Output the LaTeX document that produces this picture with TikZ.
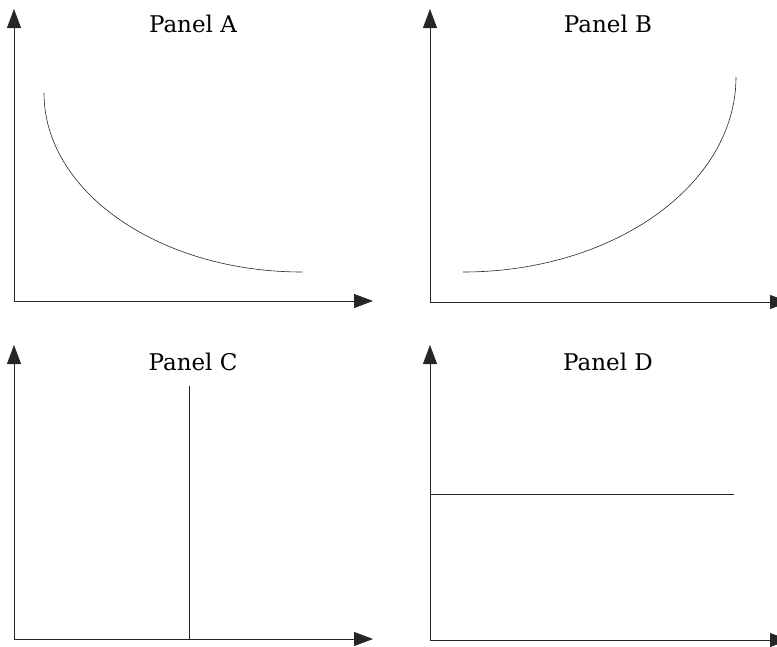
\documentclass[tikz,border=0pt]{standalone}
\usepackage{fontspec}
\setmainfont{DejaVu Serif}
\usepackage{tikz}
\usetikzlibrary{arrows.meta}

\begin{document}
\begin{tikzpicture}[x=1pt,y=-1pt,>={Triangle[length=19pt,width=14pt]}]
		
		\useasboundingbox (0,0) rectangle (777,646);
		\tikzset{axis/.style={->,line width=0.8pt,black!85},
			curve/.style={line width=0.6pt,black!85},
			title/.style={font=\fontsize{23}{28}\selectfont}}
		
		% Origins and axis ends
		\coordinate (oA) at (14,301);   \coordinate (xA) at (373,301);  \coordinate (yA) at (14,9);
		\coordinate (oB) at (430,302);  \coordinate (xB) at (789,302);  \coordinate (yB) at (430,9);
		\coordinate (oC) at (14,639);   \coordinate (xC) at (373,639);  \coordinate (yC) at (14,345);
		\coordinate (oD) at (430,640);  \coordinate (xD) at (789,640);  \coordinate (yD) at (430,345);
		
		% Axes
		\draw[axis] (oA) -- (xA);  \draw[axis] (oA) -- (yA);
		\draw[axis] (oB) -- (xB);  \draw[axis] (oB) -- (yB);
		\draw[axis] (oC) -- (xC);  \draw[axis] (oC) -- (yC);
		\draw[axis] (oD) -- (xD);  \draw[axis] (oD) -- (yD);
		
		% Titles
		\node[title] (tA) at (193,24) {Panel A};
		\node[title] (tB) at (608,24) {Panel B};
		\node[title] (tC) at (193,362) {Panel C};
		\node[title] (tD) at (608,362) {Panel D};
		
		% Panel A: falling curve
		\coordinate (a1) at (44,93);
		\draw[curve] (a1) arc[start angle=180,end angle=270,x radius=258,y radius=-179];
		
		% Panel B: rising curve
		\coordinate (b1) at (463,272);
		\draw[curve] (b1) arc[start angle=270,end angle=360,x radius=273,y radius=-195];
		
		% Panel C: vertical line
		\coordinate (c1) at (189,386);
		\coordinate (c2) at (189,639);
		\draw[curve] (c1) -- (c2);
		
		% Panel D: horizontal line
		\coordinate (d1) at (430,494);
		\coordinate (d2) at (734,494);
		\draw[curve] (d1) -- (d2);
		
	\end{tikzpicture}
\end{document}
